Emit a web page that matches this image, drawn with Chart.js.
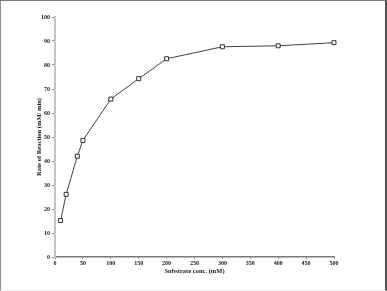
<!DOCTYPE html>
<html lang="en">
<head>
    <meta charset="UTF-8">
    <title>Rate of Reaction</title>
    <style>
        body { margin: 0; background: #fff; }
        .wrap { position: relative; width: 387px; height: 291px; }
        .frame {
            position: absolute; left: 0; top: 0; width: 387px; height: 291px;
            box-sizing: border-box; pointer-events: none;
            border-top: 1px solid #7a7a7a;
            border-left: 1px solid #8a8a8a;
            border-right: 2px solid #505050;
            border-bottom: 1px solid #eeeeee;
        }
    </style>
</head>
<body>
    <div class="wrap">
        <canvas id="chart" width="387" height="291"></canvas>
        <div class="frame"></div>
    </div>

    <script src="https://cdn.jsdelivr.net/npm/chart.js"></script>
    <script>
        const substrate = [10, 20, 40, 50, 100, 150, 200, 300, 400, 500];
        const rate = [15.2, 26.1, 42.0, 48.6, 65.8, 74.3, 82.6, 87.6, 88.0, 89.3];

        const xTitle = 'Substrate conc. (mM)';
        const yTitle = 'Rate of Reaction (mM/ min)';

        const tickFont = { family: 'Liberation Serif', size: 6, weight: 'bold' };

        const ctx = document.getElementById('chart').getContext('2d');
        new Chart(ctx, {
            type: 'scatter',
            data: {
                datasets: [{
                    data: substrate.map((x, i) => ({ x: x, y: rate[i] })),
                    showLine: true,
                    clip: false,
                    borderColor: '#404040',
                    borderWidth: 1,
                    pointStyle: 'rect',
                    pointRadius: 2.8,
                    pointBorderWidth: 1,
                    pointBorderColor: '#303030',
                    pointBackgroundColor: '#ffffff',
                    tension: 0
                }]
            },
            options: {
                responsive: false,
                animation: false,
                layout: { padding: { left: 35, right: 53, top: 17, bottom: 16 } },
                plugins: { legend: { display: false }, tooltip: { enabled: false } },
                scales: {
                    x: {
                        type: 'linear',
                        min: 0,
                        max: 500,
                        afterFit: (s) => { s.height = 18; },
                        ticks: { stepSize: 50, color: '#222', font: tickFont, padding: 1, maxRotation: 0 },
                        grid: { drawOnChartArea: false, tickLength: 2, color: '#909090' },
                        border: { color: '#7a7a7a', width: 1.5 },
                        title: {
                            display: true,
                            text: xTitle,
                            color: '#222',
                            font: { family: 'Liberation Serif', size: 6.5, weight: 'bold' },
                            padding: { top: 2, bottom: 0 }
                        }
                    },
                    y: {
                        min: 0,
                        max: 100,
                        afterFit: (s) => { s.width = 20; },
                        ticks: { stepSize: 10, color: '#222', font: tickFont, padding: 2 },
                        grid: { drawOnChartArea: false, tickLength: 3, color: '#909090' },
                        border: { color: '#c4c4c4', width: 2 },
                        title: {
                            display: true,
                            text: yTitle,
                            color: '#222',
                            font: { family: 'Liberation Serif', size: 6.5, weight: 'bold' },
                            padding: { top: 0, bottom: 0 }
                        }
                    }
                }
            }
        });
    </script>
</body>
</html>
